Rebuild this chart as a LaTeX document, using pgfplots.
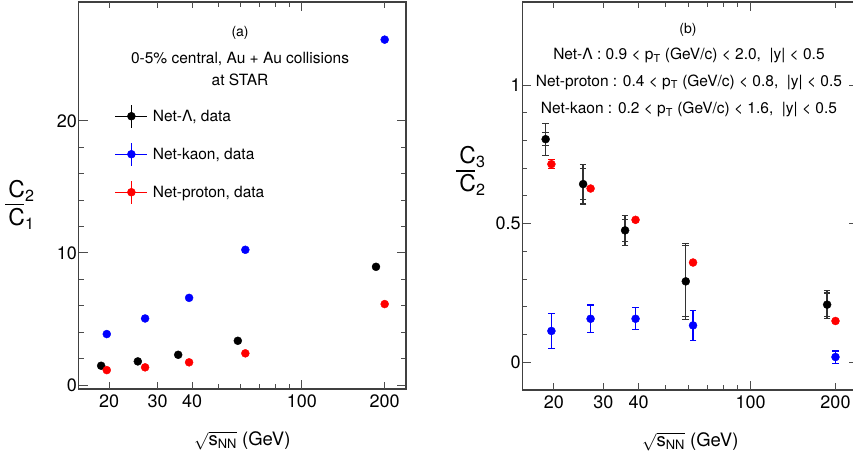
\documentclass[border=0pt]{standalone}
\usepackage{amsmath}
\usepackage{fontspec}
\setmainfont{TeX Gyre Heros}
\usepackage{pgfplots}
\pgfplotsset{compat=1.18}

\newcommand\tickfont{\fontsize{18bp}{21bp}\selectfont}
\newcommand\txtfont{\fontsize{15.5bp}{18bp}\selectfont}
\newcommand\tagfont{\fontsize{14bp}{16bp}\selectfont}
\newcommand\labfont{\fontsize{18.5bp}{22bp}\selectfont}
\newcommand\fracfont{\fontsize{23bp}{26bp}\selectfont}

% legend symbol: marker with horizontal and vertical bars
\newcommand\legsym[1]{%
  \draw[#1, line width=1bp] (0bp,0bp) -- (32bp,0bp);
  \draw[#1, line width=1bp] (16bp,-11.7bp) -- (16bp,11.7bp);
  \fill[#1] (16bp,0bp) circle (4bp);}

% ratio label: C_a over C_b with a thick, short bar
\newcommand\ratio[2]{\vbox{\offinterlineskip
  \hbox{\kern3bp C\textsubscript{#1}}\kern2bp
  \hbox{\vrule width 19bp height 1.8bp depth 0pt}\kern3bp
  \hbox{\kern3bp C\textsubscript{#2}}}}

\pgfplotsset{
  every axis/.append style={
    scale only axis, xmode=log,
    tick align=inside, tick pos=both,
    axis line style={draw=black!75, line width=1.3bp},
    tick style={draw=black!70, line width=1bp},
    major tick length=9bp, minor tick length=5bp,
    xtick={100}, xticklabels={},
    minor xtick={50,60,70,80,90},
    extra x ticks={20,30,40,100,200}, extra x tick labels={20,30,40,100,200},
    extra x tick style={major tick length=6.5bp},
    /pgf/number format/assume math mode=true,
    ticklabel style={font=\tickfont},
    xticklabel style={inner ysep=6bp},
    yticklabel style={inner xsep=1.5bp},
    minor y tick num=4,
    xlabel style={font=\labfont, at={(axis description cs:0.5,0)}, anchor=base, yshift=-56bp},
  },
}

\begin{document}
\begin{tikzpicture}

% (a) second cumulant over first
\begin{axis}[
  at={(78.7bp,67bp)}, anchor=south west,
  width=327.3bp, height=387bp,
  xmin=15.5, xmax=239, ymin=-0.3, ymax=29,
  ytick={0,10,20},
  xlabel={$\sqrt{\text{s}_{\text{NN}}}$ (GeV)},
  legend style={at={(axis description cs:0.1008,0.742)}, anchor=north west,
    draw=none, fill=none, font=\txtfont, row sep=13.6bp, column sep=3bp,
    nodes={inner sep=2bp}},
  legend cell align=left,
]
\addplot[only marks, mark=*, mark size=4bp, black, mark options={fill=black},
  legend image code/.code={\legsym{black}}] coordinates {
  (18.7,1.46) (25.4,1.79) (35.6,2.29) (58.6,3.35) (186,8.95)};
\addlegendentry{Net-Λ, data}
\addplot[only marks, mark=*, mark size=4bp, blue, mark options={fill=blue},
  legend image code/.code={\legsym{blue}}] coordinates {
  (19.6,3.86) (27,5.04) (39,6.60) (62.4,10.24) (200,26.15)};
\addlegendentry{Net-kaon, data}
\addplot[only marks, mark=*, mark size=4bp, red, mark options={fill=red},
  legend image code/.code={\legsym{red}}] coordinates {
  (19.6,1.13) (27,1.34) (39,1.72) (62.4,2.40) (200,6.13)};
\addlegendentry{Net-proton, data}

\node[anchor=base, font=\tagfont] at (axis description cs:0.493,0.912) {(a)};
\node[anchor=base, font=\txtfont] at (axis description cs:0.493,0.840) {0-5\% central, Au + Au collisions};
\node[anchor=base, font=\txtfont] at (axis description cs:0.493,0.783) {at STAR};
\end{axis}
% y label of (a)
\node[font=\fracfont] at (20bp,251bp) {\ratio{2}{1}};

% (b) third cumulant over second
\begin{axis}[
  at={(522.3bp,66bp)}, anchor=south west,
  width=336bp, height=388bp,
  xmin=15.45, xmax=241, ymin=-0.1, ymax=1.3,
  ytick={0,0.5,1}, yticklabels={0,0.5,1},
  xlabel={$\sqrt{\text{s}_{\text{NN}}}$ (GeV)},
  error bars/error mark options={rotate=90, line width=1.2bp, mark size=3.3bp},
]
% net-kaon
\addplot[only marks, mark=*, mark size=4bp, blue, mark options={fill=blue},
  error bars/y dir=both, error bars/y explicit,
  error bars/error bar style={line width=1.3bp, blue}]
  table[y error=e] {
x y e
19.6 0.113 0.063
27 0.157 0.050
39 0.157 0.040
62.4 0.133 0.053
200 0.019 0.022
};
% net-proton
\addplot[only marks, mark=*, mark size=4bp, red, mark options={fill=red},
  error bars/y dir=both, error bars/y explicit,
  error bars/error bar style={line width=1.3bp, red}]
  table[y error=e] {
x y e
19.6 0.715 0.016
27 0.627 0.006
39 0.514 0.006
62.4 0.360 0.006
200 0.149 0.006
};
% net-lambda: systematic part
\addplot[forget plot, only marks, mark=none, black!80,
  error bars/y dir=both, error bars/y explicit,
  error bars/error bar style={line width=1.3bp, black!80}]
  table[y error=e] {
x y e
18.7 0.805 0.023
25.4 0.643 0.056
35.8 0.476 0.040
58.8 0.292 0.128
186.8 0.208 0.042
};
% net-lambda: total
\addplot[only marks, mark=*, mark size=4bp, black, mark options={fill=black},
  error bars/y dir=both, error bars/y explicit,
  error bars/error bar style={line width=1.3bp, black!80}]
  table[y error=e] {
x y e
18.7 0.805 0.058
25.4 0.643 0.072
35.8 0.476 0.054
58.8 0.292 0.138
186.8 0.208 0.050
};

\node[anchor=base, font=\tagfont] at (axis description cs:0.493,0.920) {(b)};
\node[anchor=base, font=\txtfont] at (axis description cs:0.496,0.852) {Net-Λ : 0.9 < p\textsubscript{T} (GeV/c) < 2.0,\ \ |y| < 0.5};
\node[anchor=base, font=\txtfont] at (axis description cs:0.496,0.7835) {Net-proton : 0.4 < p\textsubscript{T} (GeV/c) < 0.8,\ \ |y| < 0.5};
\node[anchor=base, font=\txtfont] at (axis description cs:0.496,0.713) {Net-kaon : 0.2 < p\textsubscript{T} (GeV/c) < 1.6,\ \ |y| < 0.5};
\end{axis}
% y label of (b)
\node[font=\fracfont] at (471bp,285bp) {\ratio{3}{2}};

\pgfresetboundingbox
\useasboundingbox (0,0) rectangle (853bp,456bp);
\end{tikzpicture}
\end{document}
